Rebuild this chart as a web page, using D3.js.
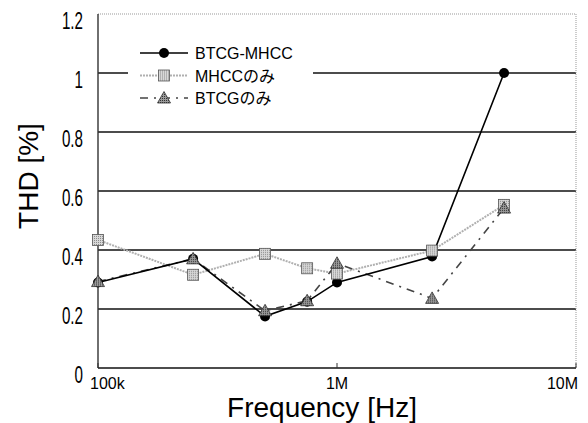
<!DOCTYPE html>
<html>
<head>
<meta charset="utf-8">
<script src="https://cdn.jsdelivr.net/npm/d3@7"></script>
<style>
  body { margin: 0; background: #fff; }
  svg { display: block; }
  text { font-family: "Liberation Sans", Arial, "Noto Sans CJK JP", sans-serif; fill: #000; }
</style>
</head>
<body>
<div id="chart"></div>
<script>
'use strict';

// frequency points [Hz]
var freqs = [100e3, 250e3, 500e3, 750e3, 1e6, 2.5e6, 5e6];
// THD [%]
var btcgMhcc = [0.29, 0.37, 0.175, 0.225, 0.29, 0.378, 1.0];
var mhccOnly = [0.434, 0.316, 0.387, 0.338, 0.32, 0.398, 0.553];
var btcgOnly = [0.293, 0.37, 0.194, 0.228, 0.355, 0.236, 0.542];

var seriesNames = ['BTCG-MHCC', 'MHCCのみ', 'BTCGのみ'];
var yTicks = [0, 0.2, 0.4, 0.6, 0.8, 1, 1.2];
var yTickLabels = ['0', '0.2', '0.4', '0.6', '0.8', '1', '1.2'];
var xTicks = [1e5, 1e6, 1e7];
var xTickLabels = ['100k', '1M', '10M'];

var margins = { top: 14, right: 12, bottom: 55, left: 98 };
var width = 588 - margins.left - margins.right;
var height = 423 - margins.top - margins.bottom;

var xScale = d3.scaleLog().domain([1e5, 1e7]).range([0, width]);
var yScale = d3.scaleLinear().domain([0, 1.2]).range([height, 0]);

var svg = d3.select('#chart').append('svg')
  .attr('width', 588)
  .attr('height', 423);

var defs = svg.append('defs');

// speckled fills for the square and triangle markers
var pat1 = defs.append('pattern')
  .attr('id', 'dotsLight')
  .attr('width', 2).attr('height', 2)
  .attr('patternUnits', 'userSpaceOnUse');
pat1.append('rect').attr('width', 2).attr('height', 2).attr('fill', '#d8d8d8');
pat1.append('rect').attr('width', 1).attr('height', 1).attr('fill', '#8a8a8a');

var pat2 = defs.append('pattern')
  .attr('id', 'dotsDark')
  .attr('width', 2).attr('height', 2)
  .attr('patternUnits', 'userSpaceOnUse');
pat2.append('rect').attr('width', 2).attr('height', 2).attr('fill', '#9a9a9a');
pat2.append('rect').attr('width', 1).attr('height', 1).attr('fill', '#333');

var g = svg.append('g')
  .attr('transform', 'translate(' + margins.left + ',' + margins.top + ')');

// grid lines
g.selectAll('.grid')
  .data(yTicks.filter(function(d) { return d > 0 && d < 1.2; }))
  .enter()
  .append('line')
  .attr('class', 'grid')
  .attr('x1', 0).attr('x2', width)
  .attr('y1', function(d) { return yScale(d); })
  .attr('y2', function(d) { return yScale(d); })
  .attr('stroke', '#111')
  .attr('stroke-width', 1.4);

// top and right borders (dotted)
g.append('line')
  .attr('x1', 0).attr('x2', width)
  .attr('y1', yScale(1.2)).attr('y2', yScale(1.2))
  .attr('stroke', '#999').attr('stroke-dasharray', '1,1');
g.append('line')
  .attr('x1', width).attr('x2', width)
  .attr('y1', 0).attr('y2', height)
  .attr('stroke', '#999').attr('stroke-dasharray', '1,1');

// left and bottom axis lines
g.append('line')
  .attr('x1', 0).attr('x2', 0)
  .attr('y1', 0).attr('y2', height)
  .attr('stroke', '#333').attr('stroke-width', 1.4);
g.append('line')
  .attr('x1', 0).attr('x2', width)
  .attr('y1', height).attr('y2', height)
  .attr('stroke', '#111').attr('stroke-width', 1.4);

// x ticks point inward
g.selectAll('.xtick')
  .data(xTicks)
  .enter()
  .append('line')
  .attr('x1', function(d) { return xScale(d); })
  .attr('x2', function(d) { return xScale(d); })
  .attr('y1', height).attr('y2', height - 5)
  .attr('stroke', '#333');

g.selectAll('.xlab')
  .data(xTicks)
  .enter()
  .append('text')
  .attr('x', function(d, i) { return xScale(d) + (i === 0 ? -8 : (i === xTicks.length - 1 ? 2 : 0)); })
  .attr('y', height + 21)
  .attr('text-anchor', function(d, i) { return i === 0 ? 'start' : (i === xTicks.length - 1 ? 'end' : 'middle'); })
  .style('font-size', '16px')
  .text(function(d, i) { return xTickLabels[i]; });

// y labels: condensed digits
g.append('g')
  .attr('class', 'ylab')
  .selectAll('text')
  .data(yTicks)
  .enter()
  .append('text')
  .attr('transform', function(d) { return 'translate(-15,' + (yScale(d) + 15) + ') scale(0.66,1)'; })
  .attr('text-anchor', 'end')
  .style('font-size', '23px')
  .text(function(d, i) { return yTickLabels[i]; });

// axis titles
svg.append('text')
  .attr('x', 322)
  .attr('y', 417)
  .attr('text-anchor', 'middle')
  .style('font-size', '28px')
  .text('Frequency [Hz]');

svg.append('text')
  .attr('transform', 'translate(38,176) rotate(-90)')
  .attr('text-anchor', 'middle')
  .style('font-size', '28px')
  .text('THD [%]');

// series
var series = [
  { name: seriesNames[0], values: btcgMhcc, stroke: '#000', width: 1.6, dash: null, marker: 'circle' },
  { name: seriesNames[1], values: mhccOnly, stroke: '#b0b0b0', width: 2, dash: '2,1', marker: 'square' },
  { name: seriesNames[2], values: btcgOnly, stroke: '#444', width: 1.6, dash: '8,6,2,6', marker: 'triangle' }
];

var line = d3.line()
  .x(function(d) { return xScale(d.f); })
  .y(function(d) { return yScale(d.v); });

function toPoints(s) {
  return freqs.map(function(f, i) { return { f: f, v: s.values[i] }; });
}

function drawMarker(sel, type) {
  if (type === 'circle') {
    sel.append('circle').attr('r', 5).attr('fill', '#000');
  } else if (type === 'square') {
    sel.append('rect')
      .attr('x', -5.5).attr('y', -5.5)
      .attr('width', 11).attr('height', 11)
      .attr('fill', 'url(#dotsLight)')
      .attr('stroke', '#555').attr('stroke-width', 0.8);
  } else {
    sel.append('path')
      .attr('d', 'M0,-6.5L6.5,5L-6.5,5Z')
      .attr('fill', 'url(#dotsDark)')
      .attr('stroke', '#333').attr('stroke-width', 0.8);
  }
}

// draw lines back-to-front: MHCC, BTCG, BTCG-MHCC
[1, 2, 0].forEach(function(k) {
  var s = series[k];
  g.append('path')
    .attr('d', line(toPoints(s)))
    .attr('fill', 'none')
    .attr('stroke', s.stroke)
    .attr('stroke-width', s.width)
    .attr('stroke-dasharray', s.dash);
});

[0, 1, 2].forEach(function(k) {
  var s = series[k];
  g.selectAll('.m' + k)
    .data(toPoints(s))
    .enter()
    .append('g')
    .attr('class', 'm' + k)
    .attr('transform', function(d) { return 'translate(' + xScale(d.f) + ',' + yScale(d.v) + ')'; })
    .each(function() { drawMarker(d3.select(this), s.marker); });
});

// legend
var legend = svg.append('g').attr('class', 'legend');
legend.append('rect')
  .attr('x', 128).attr('y', 38)
  .attr('width', 185).attr('height', 74)
  .attr('fill', '#fff');

var rows = legend.selectAll('.row')
  .data(series)
  .enter()
  .append('g')
  .attr('class', 'row')
  .attr('transform', function(d, i) { return 'translate(140,' + (53 + i * 22.5) + ')'; });

rows.append('line')
  .attr('x1', 0).attr('x2', 48)
  .attr('y1', 0).attr('y2', 0)
  .attr('stroke', function(d) { return d.stroke; })
  .attr('stroke-width', function(d) { return d.width; })
  .attr('stroke-dasharray', function(d) { return d.dash; });

rows.append('g')
  .attr('transform', 'translate(24,0)')
  .each(function(d) { drawMarker(d3.select(this), d.marker); });

rows.append('text')
  .attr('x', 55)
  .attr('y', 6)
  .style('font-size', '16px')
  .text(function(d) { return d.name; });
</script>
</body>
</html>
